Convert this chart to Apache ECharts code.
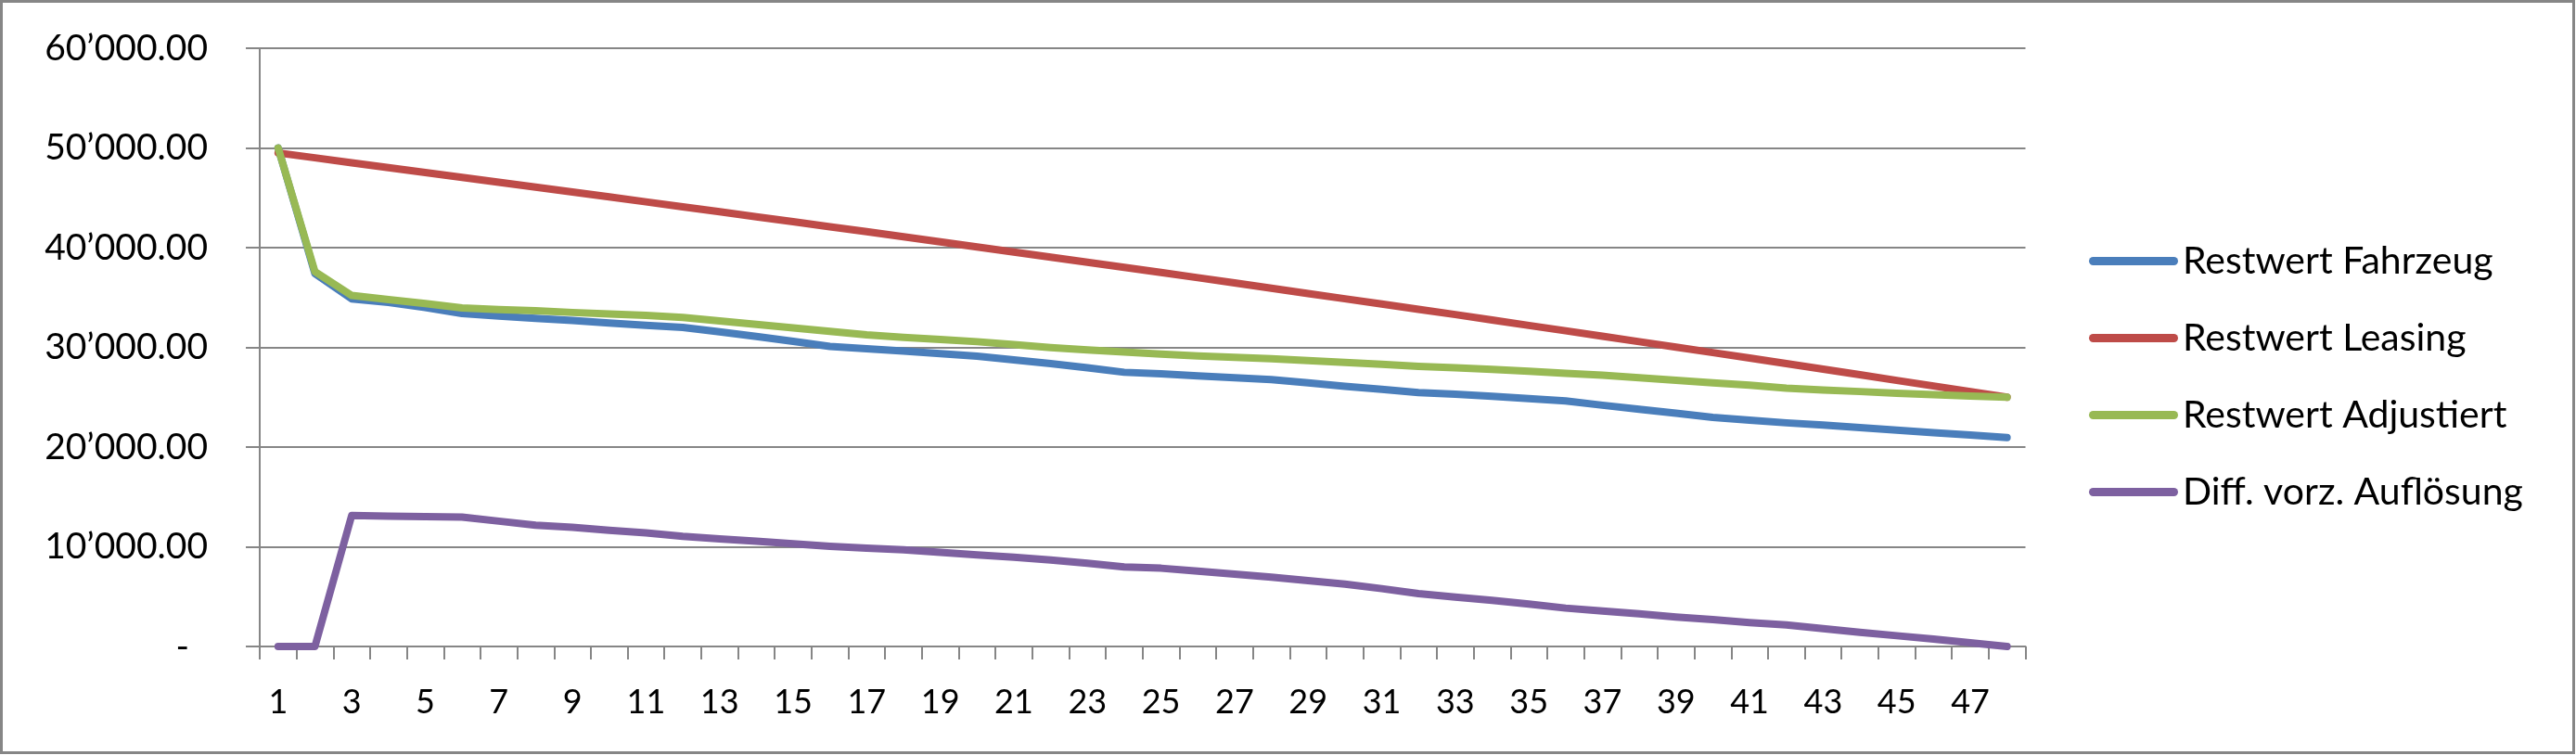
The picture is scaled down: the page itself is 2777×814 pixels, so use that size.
<!DOCTYPE html>
<html>
<head>
<meta charset="utf-8">
<script src="https://cdn.jsdelivr.net/npm/echarts@6/dist/echarts.min.js"></script>
<style>
html,body{margin:0;padding:0;background:#fff;}
#chart{width:2777px;height:814px;}
</style>
</head>
<body>
<div id="chart"></div>
<script>
const categories = ['1','2','3','4','5','6','7','8','9','10','11','12','13','14','15','16','17','18','19','20','21','22','23','24','25','26','27','28','29','30','31','32','33','34','35','36','37','38','39','40','41','42','43','44','45','46','47','48'];

const seriesNames = ['Restwert Fahrzeug', 'Restwert Leasing', 'Restwert Adjustiert', 'Diff. vorz. Auflösung'];

const restwertFahrzeug = [50000,37400,34860,34500,34000,33400,33150,32900,32700,32450,32200,32000,31550,31100,30600,30100,29850,29630,29370,29120,28750,28380,27950,27500,27360,27150,26950,26760,26450,26100,25800,25470,25300,25100,24850,24630,24200,23800,23400,22970,22700,22430,22200,21950,21700,21450,21200,20950];

const restwertLeasing = [49500,49010,48520,48030,47540,47050,46560,46070,45580,45090,44590,44100,43600,43100,42600,42100,41600,41090,40580,40070,39560,39050,38540,38030,37510,36990,36460,35930,35400,34870,34350,33820,33290,32740,32200,31660,31110,30570,30020,29480,28930,28370,27810,27250,26690,26130,25560,25000];

const restwertAdjustiert = [50000,37600,35200,34800,34400,33950,33800,33680,33500,33350,33200,33000,32650,32300,31950,31600,31250,31000,30800,30570,30270,29970,29750,29530,29320,29150,29000,28850,28670,28480,28300,28100,27950,27780,27600,27400,27200,26950,26700,26450,26200,25910,25720,25570,25400,25250,25120,25000];

const diffVorzAufloesung = [0,0,13140,13080,13020,12970,12570,12160,11950,11650,11390,11050,10800,10550,10300,10050,9850,9700,9450,9190,8950,8680,8350,7970,7850,7550,7250,6950,6600,6250,5800,5300,4950,4630,4250,3850,3550,3280,2950,2700,2400,2160,1800,1420,1080,740,370,0];

const seriesColors = ['#4a7ebb', '#be4b48', '#98b954', '#7d60a0'];

const yMin = 0, yMax = 60000, yInterval = 10000;

const FONT = 'Lato';
const GRAY = '#868686';

function fmtY(v) {
  if (v === 0) return '{d|-}';
  const intPart = Math.floor(v).toString().replace(/\B(?=(\d{3})+(?!\d))/g, '\u2019');
  return intPart + '.00';
}

const chart = echarts.init(document.getElementById('chart'), null, {renderer: 'canvas'});

const dataSets = [restwertFahrzeug, restwertLeasing, restwertAdjustiert, diffVorzAufloesung];

chart.setOption({
  animation: false,
  backgroundColor: '#ffffff',
  graphic: [{
    type: 'rect',
    shape: {x: 1.5, y: 1.5, width: 2773, height: 810},
    style: {fill: 'none', stroke: GRAY, lineWidth: 3},
    silent: true,
    z: -10
  }],
  grid: {left: 280, right: 593.5, top: 52, bottom: 117, containLabel: false},
  legend: {
    orient: 'vertical',
    left: 2252,
    top: 261,
    padding: 0,
    itemGap: 42,
    itemWidth: 96,
    itemHeight: 9,
    icon: 'path://M4.5,0 L91.5,0 A4.5,4.5 0 0 1 91.5,9 L4.5,9 A4.5,4.5 0 0 1 4.5,0 Z',
    textStyle: {fontFamily: FONT, fontSize: 41, color: '#000'},
    data: seriesNames
  },
  xAxis: {
    type: 'category',
    data: categories,
    boundaryGap: true,
    axisLine: {show: true, lineStyle: {color: GRAY, width: 2}},
    axisTick: {show: true, interval: 0, length: 14, lineStyle: {color: GRAY, width: 2}},
    axisLabel: {interval: 1, margin: 42, fontFamily: FONT, fontSize: 36, color: '#000'},
    splitLine: {show: false}
  },
  yAxis: {
    type: 'value',
    min: yMin,
    max: yMax,
    interval: yInterval,
    axisLine: {show: true, lineStyle: {color: GRAY, width: 2}},
    axisTick: {show: true, length: 15, lineStyle: {color: GRAY, width: 2}},
    axisLabel: {
      margin: 56,
      fontFamily: FONT,
      fontSize: 39,
      color: '#000',
      formatter: fmtY,
      rich: {d: {fontFamily: FONT, fontSize: 39, color: '#000', padding: [0, 20, 0, 0]}}
    },
    splitLine: {show: true, lineStyle: {color: GRAY, width: 2}}
  },
  series: seriesNames.map((name, i) => ({
    name: name,
    type: 'line',
    data: dataSets[i],
    symbol: 'none',
    showSymbol: false,
    smooth: false,
    color: seriesColors[i],
    itemStyle: {color: seriesColors[i]},
    lineStyle: {color: seriesColors[i], width: 8, cap: 'round', join: 'round'},
    z: 2 + i
  }))
});
</script>
</body>
</html>
